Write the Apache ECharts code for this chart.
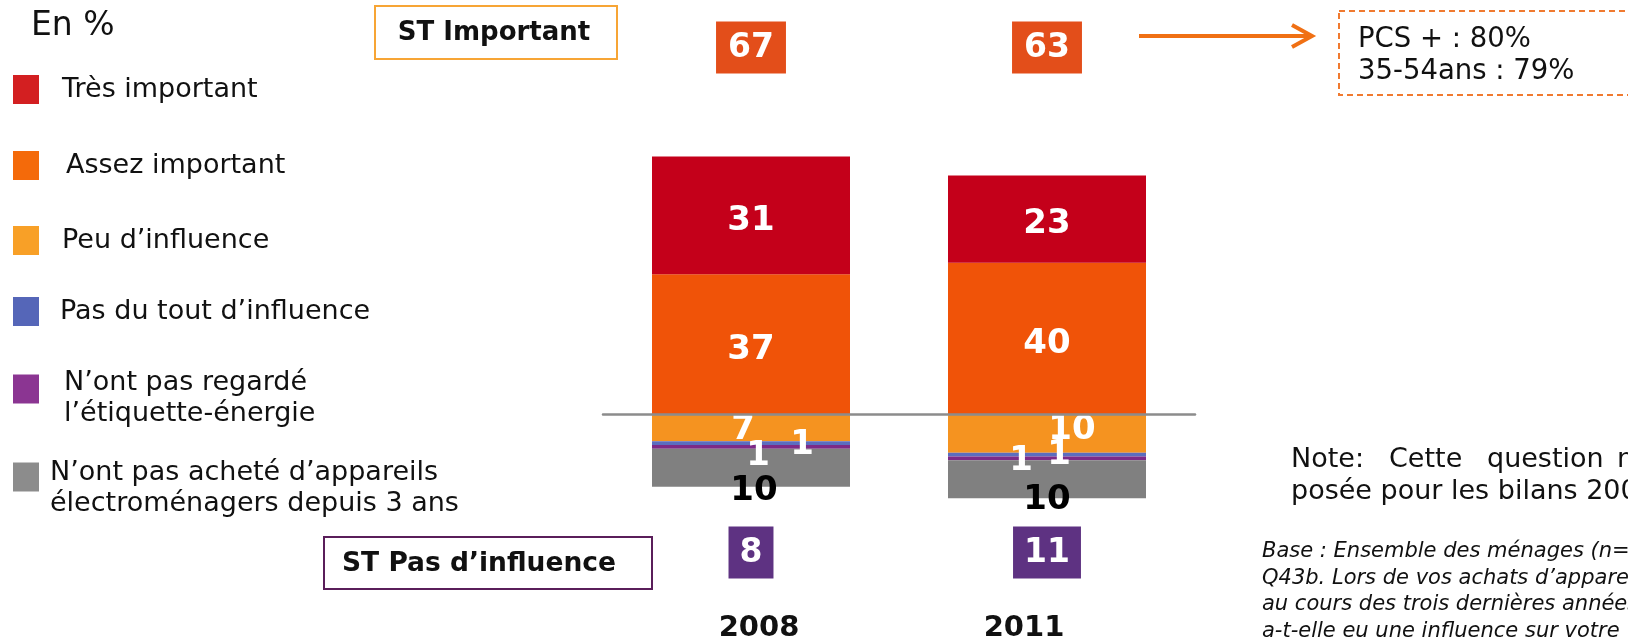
<!DOCTYPE html>
<html>
<head>
<meta charset="utf-8">
<script src="https://cdn.jsdelivr.net/npm/echarts@6/dist/echarts.min.js"></script>
<style>
  html, body { margin: 0; padding: 0; background: #fff; }
  #chart { width: 1628px; height: 643px; }
</style>
</head>
<body>
<div id="chart"></div>
<script>
// données
const categories = ['2008', '2011']
const tresImportant = [31, 23]
const assezImportant = [37, 40]
const peuInfluence = [7, 10]
const pasDuTout = [1, 1]
const pasRegarde = [1, 1]
const pasAchete = [10, 10]
const stImportant = [67, 63]
const stPasInfluence = [8, 11]

const FONT = 'DejaVu Sans'

// décalage des étiquettes (comme sur l'original)
const labelOffsets = {
  'Assez important': [[0, 6], [0, 5]],
  'Très important': [[0, 6], [0, 5]],
  'Peu d’influence': [[-8, 2], [25, -4]],
  'Pas du tout d’influence': [[7, 13], [-26, 7]],
  'N’ont pas regardé l’étiquette-énergie': [[51, -2], [12, -3]],
  'N’ont pas acheté d’appareils électroménagers depuis 3 ans': [[3, 23], [0, 21]],
}

const makeSeries = (name, values, color, sign, labelColor) => ({
  name,
  type: 'bar',
  stack: 'total',
  barWidth: 198,
  itemStyle: { color },
  label: {
    show: true,
    position: 'inside',
    color: labelColor,
    fontFamily: FONT,
    fontWeight: 'bold',
    fontSize: 34,
    formatter: (p) => Math.abs(p.value),
  },
  data: values.map((v, i) => ({ value: sign * v, label: { offset: labelOffsets[name][i] } })),
})

// légende : une par ligne, pour garder l'espacement de l'original
// (shift = ligne vide au-dessus pour descendre un peu le texte sur 2 lignes)
const legendItems = [
  { name: 'Très important', color: '#D31F21', top: 74, padLeft: 18, lines: ['Très important'], shift: 0 },
  { name: 'Assez important', color: '#F46A0A', top: 150, padLeft: 22, lines: ['Assez important'], shift: 0 },
  { name: 'Peu d’influence', color: '#F8A027', top: 225, padLeft: 18, lines: ['Peu d’influence'], shift: 0 },
  { name: 'Pas du tout d’influence', color: '#5566B8', top: 296, padLeft: 16, lines: ['Pas du tout d’influence'], shift: 0 },
  { name: 'N’ont pas regardé l’étiquette-énergie', color: '#8B3592', top: 349, padLeft: 20, lines: ['N’ont pas regardé', 'l’étiquette-énergie'], shift: 18 },
  { name: 'N’ont pas acheté d’appareils électroménagers depuis 3 ans', color: '#8C8C8C', top: 435, padLeft: 6, lines: ['N’ont pas acheté d’appareils', 'électroménagers depuis 3 ans'], shift: 22 },
]

const chart = echarts.init(document.getElementById('chart'))

const option = {
  backgroundColor: '#fff',
  animation: false,
  grid: { left: 603, right: 433, top: 111, bottom: 119 },
  legend: legendItems.map((it) => ({
    left: 13,
    top: it.top,
    padding: 0,
    itemWidth: 26,
    itemHeight: 29,
    icon: 'rect',
    selectedMode: false,
    data: [{ name: it.name, itemStyle: { color: it.color } }],
    formatter: () => {
      const body = it.lines.map((l) => '{a|' + l + '}').join('\n')
      return it.shift ? '{s| }\n' + body : body
    },
    textStyle: {
      fontFamily: FONT,
      fontSize: 27,
      color: '#111',
      lineHeight: 31,
      padding: [0, 0, 0, it.padLeft],
      rich: {
        a: { fontFamily: FONT, fontSize: 27, color: '#111', lineHeight: 31 },
        s: { fontSize: 1, lineHeight: it.shift || 1 },
      },
    },
  })),
  xAxis: [
    {
      type: 'category',
      data: categories,
      z: 10,
      axisLine: { onZero: true, lineStyle: { color: '#8C8C8C', width: 2.5 } },
      axisTick: { show: false },
      axisLabel: { show: false },
    },
    {
      type: 'category',
      data: categories,
      position: 'top',
      axisLine: { show: false },
      axisTick: { show: false },
      axisLabel: {
        interval: 0,
        margin: 47,
        formatter: (v, i) => '{b|' + stImportant[i] + '}',
        rich: {
          b: {
            backgroundColor: '#E34E1A',
            color: '#fff',
            fontFamily: FONT,
            fontWeight: 'bold',
            fontSize: 33,
            lineHeight: 33,
            padding: [10, 12, 9, 12],
          },
        },
      },
    },
    {
      type: 'category',
      data: categories,
      position: 'bottom',
      axisLine: { show: false },
      axisTick: { show: false },
      axisLabel: {
        interval: 0,
        margin: 15,
        formatter: (v, i) => '{b|' + stPasInfluence[i] + '}',
        rich: {
          b: {
            backgroundColor: '#5E3282',
            color: '#fff',
            fontFamily: FONT,
            fontWeight: 'bold',
            fontSize: 33,
            lineHeight: 33,
            padding: [10, 11, 9, 11],
          },
        },
      },
    },
    {
      type: 'category',
      data: categories,
      position: 'bottom',
      axisLine: { show: false },
      axisTick: { show: false },
      axisLabel: {
        interval: 0,
        margin: 93,
        formatter: (v, i) => '{y' + i + '|' + v + '}',
        rich: {
          y0: { fontFamily: FONT, fontWeight: 'bold', fontSize: 29, color: '#111', padding: [0, 0, 0, 16] },
          y1: { fontFamily: FONT, fontWeight: 'bold', fontSize: 29, color: '#111', padding: [0, 46, 0, 0] },
        },
      },
    },
  ],
  yAxis: { type: 'value', min: -28, max: 80, show: false },
  series: [
    makeSeries('Assez important', assezImportant, '#F05308', 1, '#fff'),
    makeSeries('Très important', tresImportant, '#C4001A', 1, '#fff'),
    makeSeries('Peu d’influence', peuInfluence, '#F59320', -1, '#fff'),
    makeSeries('Pas du tout d’influence', pasDuTout, '#5B6DBF', -1, '#fff'),
    makeSeries('N’ont pas regardé l’étiquette-énergie', pasRegarde, '#7D2A87', -1, '#fff'),
    makeSeries('N’ont pas acheté d’appareils électroménagers depuis 3 ans', pasAchete, '#808080', -1, '#000'),
  ],
  graphic: [
    { type: 'text', left: 31, top: 10, style: { text: 'En %', fontFamily: FONT, fontSize: 33, fill: '#111' } },
    // ST Important
    { type: 'rect', shape: { x: 375, y: 6, width: 242, height: 53 }, style: { fill: '#fff', stroke: '#F7A535', lineWidth: 2 } },
    { type: 'text', x: 494, y: 33, style: { text: 'ST Important', fontFamily: FONT, fontWeight: 'bold', fontSize: 26, fill: '#111', align: 'center', verticalAlign: 'middle' } },
    // ST Pas d'influence
    { type: 'rect', shape: { x: 324, y: 537, width: 328, height: 52 }, style: { fill: '#fff', stroke: '#5A1E5A', lineWidth: 2 } },
    { type: 'text', x: 342, y: 564, style: { text: 'ST Pas d’influence', fontFamily: FONT, fontWeight: 'bold', fontSize: 26.5, fill: '#111', verticalAlign: 'middle' } },
    // flèche
    { type: 'polyline', shape: { points: [[1139, 36], [1310, 36]] }, style: { stroke: '#F07014', lineWidth: 4 } },
    { type: 'polyline', shape: { points: [[1292, 25], [1312, 36], [1292, 47]] }, style: { stroke: '#F07014', lineWidth: 4, fill: null } },
    // encadré pointillé
    { type: 'rect', shape: { x: 1339, y: 11, width: 320, height: 84 }, style: { fill: '#fff', stroke: '#F07A30', lineWidth: 2, lineDash: [6, 4] } },
    { type: 'text', x: 1358, y: 40, style: { text: 'PCS + : 80%', fontFamily: FONT, fontSize: 27.5, fill: '#111', verticalAlign: 'middle' } },
    { type: 'text', x: 1358, y: 72, style: { text: '35-54ans : 79%', fontFamily: FONT, fontSize: 27.5, fill: '#111', verticalAlign: 'middle' } },
    // note
    { type: 'text', x: 1291, y: 460, style: { text: 'Note:', fontFamily: FONT, fontSize: 27, fill: '#111', verticalAlign: 'middle' } },
    { type: 'text', x: 1389, y: 460, style: { text: 'Cette', fontFamily: FONT, fontSize: 27, fill: '#111', verticalAlign: 'middle' } },
    { type: 'text', x: 1487, y: 460, style: { text: 'question', fontFamily: FONT, fontSize: 27, fill: '#111', verticalAlign: 'middle' } },
    { type: 'text', x: 1617, y: 460, style: { text: 'n’a', fontFamily: FONT, fontSize: 27, fill: '#111', verticalAlign: 'middle' } },
    { type: 'text', x: 1291, y: 492, style: { text: 'posée pour les bilans 2008', fontFamily: FONT, fontSize: 27, fill: '#111', verticalAlign: 'middle' } },
    // base
    {
      type: 'text', x: 1262, y: 538,
      style: {
        text: 'Base : Ensemble des ménages (n=\nQ43b. Lors de vos achats d’appareils\nau cours des trois dernières années,\na-t-elle eu une influence sur votre',
        fontFamily: FONT, fontStyle: 'italic', fontSize: 21, lineHeight: 26.7, fill: '#111',
      },
    },
  ],
}

chart.setOption(option)
</script>
</body>
</html>
